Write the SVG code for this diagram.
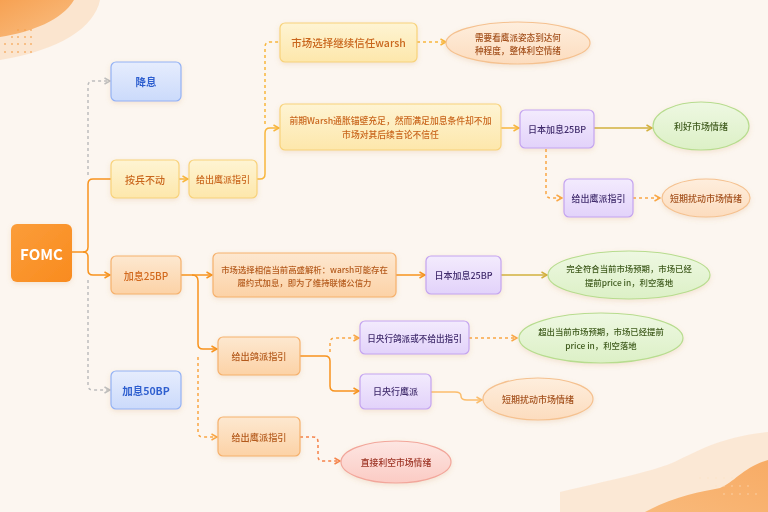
<svg xmlns="http://www.w3.org/2000/svg" width="768" height="512" viewBox="0 0 768 512">
<defs>
<style>
text{font-family:"Noto Sans CJK SC","Noto Sans",sans-serif;text-anchor:middle;dominant-baseline:central;font-weight:500}
.n{stroke-width:1.2}
.y{fill:url(#gY);stroke:#f8d27a}
.o{fill:url(#gO);stroke:#f6b16c}
.b{fill:url(#gB);stroke:#93b2f4}
.p{fill:url(#gP);stroke:#c4a4ef}
.g{fill:url(#gG);stroke:#b7dc8e}
.k{fill:url(#gK);stroke:#f5c18f}
.r{fill:url(#gR);stroke:#f2a69a}
.ty{fill:#c9661d;font-size:10px}
.to{fill:#b45a1c;font-size:10px}
.tb{fill:#2f5fcf;font-size:10.5px;font-weight:600}
.tp{fill:#3f2a6b;font-size:9px}
.tg{fill:#3e5a1c;font-size:8.4px}
.tk{fill:#a3501c;font-size:9px}
.tr{fill:#9c3324;font-size:8.8px}
.c{fill:none;stroke-width:1.5;stroke-linejoin:round}
.d{stroke-dasharray:3 3}
</style>
<linearGradient id="gY" x1="0" y1="0" x2="0" y2="1"><stop offset="0" stop-color="#fef4d3"/><stop offset="1" stop-color="#fde7ab"/></linearGradient>
<linearGradient id="gO" x1="0" y1="0" x2="0" y2="1"><stop offset="0" stop-color="#fde8d0"/><stop offset="1" stop-color="#fcd2a6"/></linearGradient>
<linearGradient id="gB" x1="0" y1="0" x2="0" y2="1"><stop offset="0" stop-color="#e6edfd"/><stop offset="1" stop-color="#cbdafb"/></linearGradient>
<linearGradient id="gP" x1="0" y1="0" x2="0" y2="1"><stop offset="0" stop-color="#f3ebfd"/><stop offset="1" stop-color="#e2d2fa"/></linearGradient>
<linearGradient id="gG" x1="0" y1="0" x2="0" y2="1"><stop offset="0" stop-color="#eef8e2"/><stop offset="1" stop-color="#dcf0c6"/></linearGradient>
<linearGradient id="gK" x1="0" y1="0" x2="0" y2="1"><stop offset="0" stop-color="#feeedd"/><stop offset="1" stop-color="#fcdcbe"/></linearGradient>
<linearGradient id="gR" x1="0" y1="0" x2="0" y2="1"><stop offset="0" stop-color="#fde6e2"/><stop offset="1" stop-color="#fbcbc4"/></linearGradient>
<linearGradient id="gF" x1="0" y1="0" x2="1" y2="1"><stop offset="0" stop-color="#fb9d3a"/><stop offset="1" stop-color="#f98b1e"/></linearGradient>
<linearGradient id="gBlob" x1="0" y1="0" x2="1" y2="1"><stop offset="0" stop-color="#f69a45"/><stop offset="1" stop-color="#f9bb7c"/></linearGradient>
<linearGradient id="gWave" x1="0" y1="1" x2="1" y2="0"><stop offset="0" stop-color="#f8b16a"/><stop offset="1" stop-color="#f7a152"/></linearGradient>
<filter id="sh" x="-20%" y="-30%" width="140%" height="170%"><feDropShadow dx="0" dy="2" stdDeviation="2.5" flood-color="#c98a4a" flood-opacity="0.18"/></filter>
<marker id="aO" viewBox="0 0 8 8" refX="7" refY="4" markerWidth="8" markerHeight="8" markerUnits="userSpaceOnUse" orient="auto"><path d="M1.5,1 L7,4 L1.5,7" fill="none" stroke="#f7931e" stroke-width="1.5"/></marker>
<marker id="aY" viewBox="0 0 8 8" refX="7" refY="4" markerWidth="8" markerHeight="8" markerUnits="userSpaceOnUse" orient="auto"><path d="M1.5,1 L7,4 L1.5,7" fill="none" stroke="#f8b63c" stroke-width="1.5"/></marker>
<marker id="aD" viewBox="0 0 8 8" refX="7" refY="4" markerWidth="8" markerHeight="8" markerUnits="userSpaceOnUse" orient="auto"><path d="M1.5,1 L7,4 L1.5,7" fill="none" stroke="#f9a644" stroke-width="1.5"/></marker>
<marker id="aG" viewBox="0 0 8 8" refX="7" refY="4" markerWidth="8" markerHeight="8" markerUnits="userSpaceOnUse" orient="auto"><path d="M1.5,1 L7,4 L1.5,7" fill="none" stroke="#bdbdbd" stroke-width="1.5"/></marker>
<marker id="aV" viewBox="0 0 8 8" refX="7" refY="4" markerWidth="8" markerHeight="8" markerUnits="userSpaceOnUse" orient="auto"><path d="M1.5,1 L7,4 L1.5,7" fill="none" stroke="#d2b03e" stroke-width="1.5"/></marker>
<marker id="aL" viewBox="0 0 8 8" refX="7" refY="4" markerWidth="8" markerHeight="8" markerUnits="userSpaceOnUse" orient="auto"><path d="M1.5,1 L7,4 L1.5,7" fill="none" stroke="#fbbd6c" stroke-width="1.5"/></marker>
<marker id="aR" viewBox="0 0 8 8" refX="7" refY="4" markerWidth="8" markerHeight="8" markerUnits="userSpaceOnUse" orient="auto"><path d="M1.5,1 L7,4 L1.5,7" fill="none" stroke="#f5834a" stroke-width="1.5"/></marker>
</defs>

<rect width="768" height="512" fill="#fcf6f0"/>
<g id="decor">
<path d="M0,0 H100 C94,28 60,50 0,60 Z" fill="#fbdcbd" opacity="0.65"/>
<path d="M0,0 H74 C62,20 32,32 0,37 Z" fill="url(#gBlob)" opacity="0.9"/>
<g fill="#f6a04d" opacity="0.75">
<circle cx="18" cy="30" r="1"/><circle cx="25" cy="30" r="1"/><circle cx="31" cy="30" r="1"/>
<circle cx="12" cy="37" r="1"/><circle cx="18" cy="37" r="1"/><circle cx="25" cy="37" r="1"/><circle cx="31" cy="37" r="1"/>
<circle cx="5" cy="44" r="1"/><circle cx="12" cy="44" r="1"/><circle cx="18" cy="44" r="1"/><circle cx="25" cy="44" r="1"/><circle cx="31" cy="44" r="1"/>
<circle cx="5" cy="52" r="1"/><circle cx="12" cy="52" r="1"/><circle cx="18" cy="52" r="1"/><circle cx="25" cy="52" r="1"/><circle cx="31" cy="52" r="1"/>
</g>
<path d="M560,492 C610,480 650,472 672,463 C700,450 720,437 768,432 V512 H560 Z" fill="#fbe3cc" opacity="0.75"/>
<path d="M645,512 C675,496 700,492 720,488 C735,482 742,468 768,460 V512 Z" fill="url(#gWave)" opacity="0.85"/>
<g fill="#fde2c4" opacity="0.7">
<circle cx="700" cy="478" r="0.8"/><circle cx="708" cy="478" r="0.8"/><circle cx="716" cy="478" r="0.8"/><circle cx="724" cy="478" r="0.8"/><circle cx="732" cy="478" r="0.8"/>
<circle cx="716" cy="486" r="0.8"/><circle cx="724" cy="486" r="0.8"/><circle cx="732" cy="486" r="0.8"/><circle cx="740" cy="486" r="0.8"/><circle cx="748" cy="486" r="0.8"/>
<circle cx="724" cy="494" r="0.8"/><circle cx="732" cy="494" r="0.8"/><circle cx="740" cy="494" r="0.8"/><circle cx="748" cy="494" r="0.8"/><circle cx="756" cy="494" r="0.8"/>
</g>
</g>

<g id="connectors">
<path class="c d" stroke="#bdbdbd" d="M88,175 V86 Q88,81 93,81 H110" marker-end="url(#aG)"/>
<path class="c d" stroke="#bdbdbd" d="M88,280 V385 Q88,390 93,390 H110" marker-end="url(#aG)"/>
<path class="c" stroke="#f7931e" d="M72,252 H83 Q88,252 88,247 V184 Q88,179 93,179 H111"/>
<path class="c" stroke="#f7931e" d="M83,252 Q88,252 88,257 V270 Q88,275 93,275 H110" marker-end="url(#aO)"/>
<path class="c" stroke="#f8b63c" d="M179,179 H188" marker-end="url(#aY)"/>
<path class="c d" stroke="#f8b63c" d="M265,124 V47 Q265,42 270,42 H280"/>
<path class="c" stroke="#f8b63c" d="M257,179 H260 Q265,179 265,174 V133 Q265,128 270,128 H279" marker-end="url(#aY)"/>
<path class="c d" stroke="#f8b63c" d="M417,42 H446" marker-end="url(#aY)"/>
<path class="c" stroke="#f8b63c" d="M501,128 H519" marker-end="url(#aY)"/>
<path class="c" stroke="#d2b03e" d="M594,128 H652" marker-end="url(#aV)"/>
<path class="c d" stroke="#f9a644" d="M546,149 V193 Q546,198 551,198 H562" marker-end="url(#aD)"/>
<path class="c d" stroke="#f9a644" d="M633,198 H660" marker-end="url(#aD)"/>
<path class="c" stroke="#f7931e" d="M181,275 H212" marker-end="url(#aO)"/>
<path class="c" stroke="#f7931e" d="M192,275 Q198,275 198,281 V344 Q198,349 203,349 H217" marker-end="url(#aO)"/>
<path class="c d" stroke="#f9a644" d="M198,357 V432 Q198,437 203,437 H217" marker-end="url(#aD)"/>
<path class="c" stroke="#f7931e" d="M396,275 H425" marker-end="url(#aO)"/>
<path class="c" stroke="#d2b03e" d="M501,275 H547" marker-end="url(#aV)"/>
<path class="c d" stroke="#f9a644" d="M330,352 V343 Q330,338 335,338 H359" marker-end="url(#aD)"/>
<path class="c" stroke="#f7931e" d="M300,356 H325 Q330,356 330,361 V386 Q330,391 335,391 H359" marker-end="url(#aO)"/>
<path class="c d" stroke="#f9a644" d="M469,338 H517" marker-end="url(#aD)"/>
<path class="c" stroke="#fbbd6c" d="M431,392 H455 Q461,392 461,396 Q461,400 467,400 H482" marker-end="url(#aL)"/>
<path class="c d" stroke="#f5834a" d="M300,437 H313 Q318,437 318,442 V456 Q318,461 323,461 H340" marker-end="url(#aR)"/>
</g>

<g id="fomc" filter="url(#sh)"><rect x="11" y="224" width="61" height="58" rx="6" fill="url(#gF)"/><text x="41.5" y="253" style="fill:#ffffff;font-size:15px;font-weight:700">FOMC</text></g>
<g id="jiangxi" filter="url(#sh)"><rect class="n b" x="111" y="62" width="70" height="39" rx="5"/><text class="tb" x="146" y="81.5">降息</text></g>
<g id="anbing" filter="url(#sh)"><rect class="n y" x="111" y="160" width="68" height="38" rx="5"/><text class="ty" x="145" y="179">按兵不动</text></g>
<g id="ying1" filter="url(#sh)"><rect class="n y" x="189" y="160" width="68" height="38" rx="5"/><text class="ty" x="223" y="179" style="font-size:9px">给出鹰派指引</text></g>
<g id="jiaxi25" filter="url(#sh)"><rect class="n o" x="111" y="256" width="70" height="38" rx="5"/><text class="to" x="146" y="275" style="fill:#d2691e">加息25BP</text></g>
<g id="jiaxi50" filter="url(#sh)"><rect class="n b" x="111" y="371" width="70" height="38" rx="5"/><text class="tb" x="146" y="390">加息50BP</text></g>
<g id="trust" filter="url(#sh)"><rect class="n y" x="280" y="23" width="137" height="39" rx="5"/><text class="ty" x="348.5" y="42.5" style="font-size:10.5px">市场选择继续信任warsh</text></g>
<g id="needsee" filter="url(#sh)"><ellipse class="n k" cx="518" cy="43" rx="72" ry="21"/><text class="tk" x="518" y="36.5" style="font-size:8.6px">需要看鹰派姿态到达何</text><text class="tk" x="518" y="49.5" style="font-size:8.6px">种程度，整体利空情绪</text></g>
<g id="early" filter="url(#sh)"><rect class="n y" x="280" y="104" width="221" height="46" rx="5"/><text class="ty" x="390.5" y="120.5" style="font-size:8.8px">前期Warsh通胀锚壁充足，然而满足加息条件却不加</text><text class="ty" x="390.5" y="134.5" style="font-size:8.8px">市场对其后续言论不信任</text></g>
<g id="jp1" filter="url(#sh)"><rect class="n p" x="520" y="110" width="74" height="38" rx="5"/><text class="tp" x="557" y="129">日本加息25BP</text></g>
<g id="lihao" filter="url(#sh)"><ellipse class="n g" cx="701" cy="126" rx="48" ry="24"/><text class="tg" x="701" y="126" style="font-size:9px">利好市场情绪</text></g>
<g id="ying2" filter="url(#sh)"><rect class="n p" x="564" y="179" width="69" height="38" rx="5"/><text class="tp" x="598.5" y="198">给出鹰派指引</text></g>
<g id="raodong1" filter="url(#sh)"><ellipse class="n k" cx="706" cy="198" rx="44" ry="19"/><text class="tk" x="706" y="198">短期扰动市场情绪</text></g>
<g id="gaosheng" filter="url(#sh)"><rect class="n o" x="213" y="253" width="183" height="44" rx="5"/><text class="to" x="304.5" y="268.5" style="font-size:8.4px">市场选择相信当前高盛解析：warsh可能存在</text><text class="to" x="304.5" y="282" style="font-size:8.4px">履约式加息，即为了维持联储公信力</text></g>
<g id="jp2" filter="url(#sh)"><rect class="n p" x="426" y="256" width="75" height="38" rx="5"/><text class="tp" x="463.5" y="275">日本加息25BP</text></g>
<g id="fuhe" filter="url(#sh)"><ellipse class="n g" cx="629" cy="275" rx="81" ry="24"/><text class="tg" x="629" y="268">完全符合当前市场预期，市场已经</text><text class="tg" x="629" y="282">提前price in，利空落地</text></g>
<g id="ge" filter="url(#sh)"><rect class="n o" x="218" y="337" width="82" height="38" rx="5"/><text class="to" x="259" y="356" style="font-size:9.2px">给出鸽派指引</text></g>
<g id="boj_dove" filter="url(#sh)"><rect class="n p" x="360" y="321" width="109" height="33" rx="5"/><text class="tp" x="414.5" y="337.5" style="font-size:8.6px">日央行鸽派或不给出指引</text></g>
<g id="chaochu" filter="url(#sh)"><ellipse class="n g" cx="601" cy="338" rx="82" ry="25"/><text class="tg" x="601" y="331">超出当前市场预期，市场已经提前</text><text class="tg" x="601" y="345">price in，利空落地</text></g>
<g id="boj_hawk" filter="url(#sh)"><rect class="n p" x="360" y="374" width="71" height="35" rx="5"/><text class="tp" x="395.5" y="391.5">日央行鹰派</text></g>
<g id="raodong2" filter="url(#sh)"><ellipse class="n k" cx="538" cy="399" rx="55" ry="21"/><text class="tk" x="538" y="399">短期扰动市场情绪</text></g>
<g id="ying3" filter="url(#sh)"><rect class="n o" x="218" y="417" width="82" height="39" rx="5"/><text class="to" x="259" y="436.5" style="font-size:9.2px">给出鹰派指引</text></g>
<g id="zhijie" filter="url(#sh)"><ellipse class="n r" cx="396" cy="462" rx="55" ry="21"/><text class="tr" x="396" y="462">直接利空市场情绪</text></g>
</svg>
